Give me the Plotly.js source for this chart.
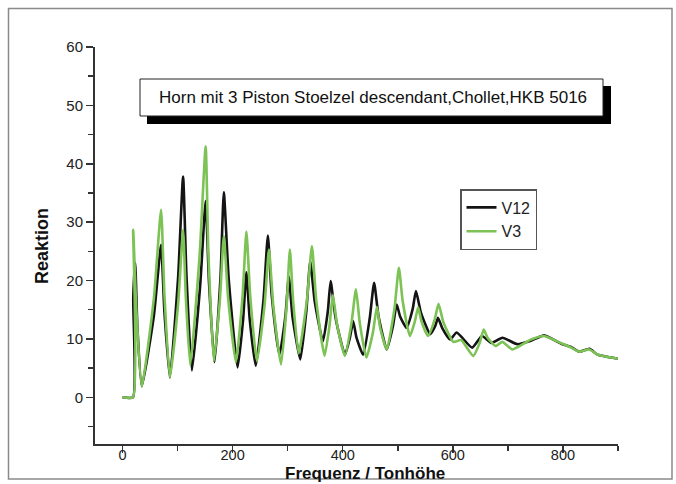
<!DOCTYPE html>
<html><head><meta charset="utf-8">
<script src="https://cdn.plot.ly/plotly-3.0.1.min.js"></script>
<style>html,body{margin:0;padding:0;background:#fff}#chart{width:676px;height:484px}</style>
</head><body><div id="chart"></div>
<script>
// ---- data ----
const seriesNames = ["V12", "V3"];
const chartTitle = "Horn mit 3 Piston Stoelzel descendant,Chollet,HKB 5016";
const xTitle = "Frequenz / Tonhöhe";
const yTitle = "Reaktion";

const v12X = [0, 19, 19.5, 23, 27, 35, 57, 70, 76, 86, 101, 110, 116, 126, 141, 151, 157, 167, 178, 184, 193, 209, 219, 225, 231, 242, 256, 264, 271, 285, 296, 302, 309, 323, 334, 341, 349, 364, 373, 378, 387, 404, 413, 419, 425, 437, 449, 457, 465, 480, 491, 498, 504, 516, 527, 533, 542, 559, 568, 573, 581, 595, 607, 635, 653, 670, 690, 717, 742, 766, 796, 815, 830, 848, 863, 882, 900];
const v12Y = [0, 0, 17, 23, 12, 1.9, 14.0, 26.1, 14.8, 3.4, 20.6, 37.8, 21.2, 4.6, 19.1, 33.6, 19.8, 6.0, 20.6, 35.1, 20.1, 5.1, 13.3, 21.4, 13.4, 5.4, 16.6, 27.7, 17.5, 7.3, 14.0, 20.7, 13.6, 6.5, 14.9, 23.3, 16.5, 9.6, 14.8, 19.9, 13.6, 7.3, 10.2, 13.0, 10.2, 7.3, 13.5, 19.6, 13.9, 8.2, 12.1, 15.9, 13.9, 11.9, 15.1, 18.2, 14.5, 10.8, 12.2, 13.6, 11.8, 9.9, 11.1, 8.5, 10.5, 9.3, 10.2, 9.1, 9.7, 10.6, 9.2, 8.6, 7.8, 8.3, 7.3, 6.9, 6.6];

const v3X = [0, 19, 19.3, 25, 35, 57, 70, 76, 86, 101, 110, 115, 123, 140, 151, 156, 166, 177, 184, 192, 206, 218, 225, 232, 244, 258, 266, 274, 288, 298, 304, 310, 320, 335, 344, 352, 367, 376, 382, 390, 404, 416, 424, 431, 443, 455, 462, 468, 480, 494, 502, 509, 522, 531, 537, 543, 555, 567, 574, 583, 601, 615, 637, 649, 656, 663, 678, 690, 708, 742, 766, 796, 815, 830, 848, 863, 882, 900];
const v3Y = [0, 0, 28.7, 15.2, 1.8, 17.0, 32.1, 17.8, 3.4, 16.0, 28.7, 17.1, 5.5, 24.3, 43.0, 24.6, 6.2, 16.9, 27.6, 16.8, 6.0, 17.2, 28.4, 17.3, 6.2, 15.8, 25.3, 15.5, 5.6, 15.5, 25.3, 16.4, 7.5, 16.7, 25.9, 16.5, 7.1, 12.3, 17.5, 12.3, 7.1, 12.8, 18.5, 12.7, 6.8, 11.2, 15.5, 11.9, 8.2, 15.2, 22.2, 16.4, 10.5, 13.0, 15.4, 13.0, 10.5, 13.3, 16.0, 12.8, 9.5, 9.8, 7.1, 9.4, 11.6, 10.2, 8.8, 9.5, 8.2, 9.9, 10.5, 9.3, 8.5, 7.8, 8.2, 7.3, 6.9, 6.6];

// ---- layout helpers (pixel -> paper) ----
const L = 95, R = 618, T = 47, B = 444, W = 676, H = 484;
const fx = p => (p - L) / (R - L);
const fy = p => (B - p) / (B - T);
const FONT = "Arial, 'Liberation Sans', Helvetica, sans-serif";

const traces = [
  {x: v12X, y: v12Y, name: seriesNames[0], type: "scatter", mode: "lines",
   line: {color: "#141414", width: 2.6, shape: "spline", smoothing: 0.5}},
  {x: v3X, y: v3Y, name: seriesNames[1], type: "scatter", mode: "lines",
   line: {color: "#7cc255", width: 2.6, shape: "spline", smoothing: 0.5}}
];

const layout = {
  width: W, height: H,
  margin: {l: L, r: W - R, t: T, b: H - B, pad: 0},
  paper_bgcolor: "#fff", plot_bgcolor: "#fff",
  font: {family: FONT, color: "#222", size: 15},
  showlegend: true,
  legend: {x: fx(460), y: fy(189), xanchor: "left", yanchor: "top",
    bgcolor: "#fff", bordercolor: "#555", borderwidth: 1.5,
    font: {family: FONT, size: 16, color: "#222"}, tracegroupgap: 0},
  xaxis: {range: [-50, 900], tick0: 0, dtick: 200, ticks: "outside", ticklen: 7, tickwidth: 1.5,
    tickcolor: "#333", showline: true, linecolor: "#333", linewidth: 2, showgrid: false,
    zeroline: false, tickfont: {size: 14.5, color: "#222"}, ticklabelstandoff: -10,
    minor: {dtick: 100, ticks: "outside", ticklen: 5, tickwidth: 1.5, tickcolor: "#333", showgrid: false}},
  yaxis: {range: [-8, 60], tick0: 0, dtick: 10, ticks: "outside", ticklen: 7, tickwidth: 1.5,
    tickcolor: "#333", showline: true, linecolor: "#333", linewidth: 2, showgrid: false,
    zeroline: false, tickfont: {size: 15, color: "#222"},
    minor: {dtick: 5, ticks: "outside", ticklen: 5, tickwidth: 1.5, tickcolor: "#333", showgrid: false}},
  shapes: [
    // outer frame
    {type: "rect", xref: "paper", yref: "paper", x0: fx(8.5), x1: fx(672), y0: fy(479), y1: fy(8.5),
     line: {color: "#8a8a8a", width: 1.5}, fillcolor: "rgba(0,0,0,0)", layer: "below"},
    // title box shadow
    {type: "rect", xref: "paper", yref: "paper", x0: fx(147), x1: fx(611), y0: fy(124), y1: fy(86),
     line: {width: 0}, fillcolor: "#000", layer: "above"},
    // title box
    {type: "rect", xref: "paper", yref: "paper", x0: fx(140), x1: fx(603), y0: fy(116), y1: fy(79),
     line: {color: "#222", width: 1}, fillcolor: "#fff", layer: "above"}
  ],
  annotations: [
    {text: chartTitle, xref: "paper", yref: "paper", x: fx(373), y: fy(97.5), xanchor: "center", yanchor: "middle",
     showarrow: false, font: {family: FONT, size: 17, color: "#111"}},
    {text: "<b>" + xTitle + "</b>", xref: "paper", yref: "paper", x: fx(365), y: fy(473.5), xanchor: "center", yanchor: "middle",
     showarrow: false, font: {family: FONT, size: 17, color: "#111"}},
    {text: "<b>" + yTitle + "</b>", xref: "paper", yref: "paper", x: fx(42), y: fy(246), xanchor: "center", yanchor: "middle",
     textangle: -90, showarrow: false, font: {family: FONT, size: 18, color: "#111"}}
  ]
};

Plotly.newPlot("chart", traces, layout, {displayModeBar: false, staticPlot: true});
</script></body></html>
